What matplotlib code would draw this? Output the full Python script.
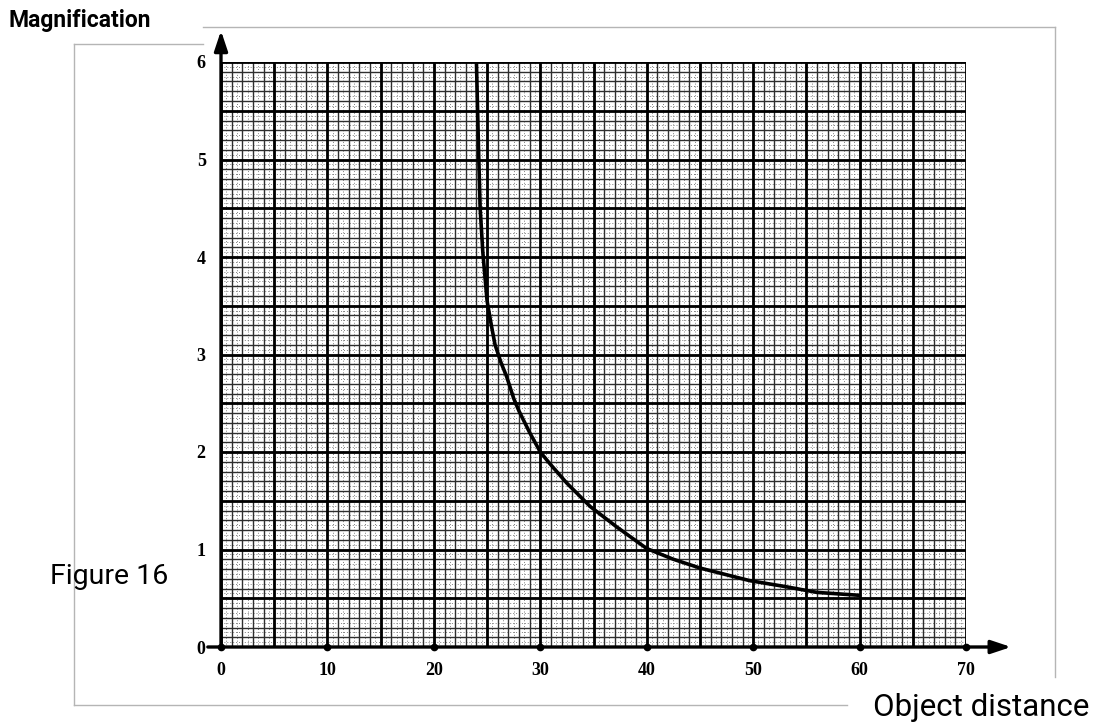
import numpy as np
import matplotlib.pyplot as plt
from matplotlib.lines import Line2D

# magnification curve
distance = [24.0, 24.2, 24.35, 24.6, 25.0, 25.4, 25.75, 26.3, 26.85, 27.5,
            28.0, 29.0, 30.0, 30.9, 32.5, 34.7, 37.2, 40.0, 42.5, 45.0,
            49.7, 53.0, 56.0, 60.0]
magnification = [6.0, 5.1, 4.5, 4.05, 3.55, 3.3, 3.1, 2.92, 2.77, 2.55,
                 2.42, 2.2, 2.0, 1.88, 1.68, 1.44, 1.23, 1.01, 0.9, 0.81,
                 0.68, 0.62, 0.56, 0.53]

x_ticks = [0, 10, 20, 30, 40, 50, 60, 70]
y_ticks = [0, 1, 2, 3, 4, 5, 6]

W, H = 1097, 726
fig = plt.figure(figsize=(W / 100, H / 100), dpi=100)
ax = fig.add_axes([221 / W, 1 - 647 / H, 745 / W, 585 / H])
ax.set_xlim(0, 70)
ax.set_ylim(0, 6)

# graph paper: fine dots, thin lines, heavy lines
for x in np.arange(0, 70.01, 0.5):
    ax.axvline(x, color='#808080', lw=0.7, ls=(0, (1, 2)), zorder=1)
for y in np.arange(0, 6.001, 0.05):
    ax.axhline(y, color='#808080', lw=0.7, ls=(0, (1, 2)), zorder=1)
for x in np.arange(0, 70.01, 1):
    ax.axvline(x, color='#2e2e2e', lw=1.0, zorder=2)
for y in np.arange(0, 6.001, 0.1):
    ax.axhline(y, color='#2e2e2e', lw=1.0, zorder=2)
for x in np.arange(0, 70.01, 5):
    ax.axvline(x, color='black', lw=2.0, zorder=3)
for y in np.arange(0, 6.001, 0.5):
    ax.axhline(y, color='black', lw=2.0, zorder=3)

ax.plot(distance, magnification, color='black', lw=2.6, zorder=5,
        solid_capstyle='round', solid_joinstyle='round')

for s in ax.spines.values():
    s.set_visible(False)

# axes with arrow heads
ax.annotate('', xy=(74.5, 0), xytext=(-1.5, 0), annotation_clip=False,
            arrowprops=dict(arrowstyle='-|>,head_length=1.2,head_width=0.4',
                            color='black', lw=2.4))
ax.annotate('', xy=(0, 6.35), xytext=(0, -0.05), annotation_clip=False,
            arrowprops=dict(arrowstyle='-|>,head_length=1.2,head_width=0.4',
                            color='black', lw=2.4))

ax.set_xticks(x_ticks)
ax.set_yticks(y_ticks)
ax.set_xticklabels([str(v) for v in x_ticks])
ax.set_yticklabels([str(v) for v in y_ticks])
ax.tick_params(length=0, pad=11, labelsize=13)
for lab in ax.get_xticklabels() + ax.get_yticklabels():
    lab.set_family('Liberation Serif')
    lab.set_fontweight('bold')
ax.plot(x_ticks, [0] * len(x_ticks), 'ko', ms=4.5, clip_on=False, zorder=6)

# thin grey frame around the cut-out
frame = dict(color='#b5b5b5', lw=1.0)
fig.add_artist(Line2D([74 / W, 74 / W], [1 - 44 / H, 1 - 705 / H], **frame))
fig.add_artist(Line2D([74 / W, 203 / W], [1 - 44 / H, 1 - 44 / H], **frame))
fig.add_artist(Line2D([203 / W, 1055 / W], [1 - 27 / H, 1 - 27 / H], **frame))
fig.add_artist(Line2D([1055 / W, 1055 / W], [1 - 27 / H, 1 - 677 / H], **frame))
fig.add_artist(Line2D([74 / W, 847 / W], [1 - 705 / H, 1 - 705 / H], **frame))

fig.text(9 / W, 1 - 20 / H, 'Magnification', family='Roboto',
         fontweight='semibold', fontsize=16.5, va='center', ha='left')
fig.text(50 / W, 1 - 576 / H, 'Figure 16', family='Roboto',
         fontsize=20.5, va='center', ha='left')
fig.text(1089 / W, 1 - 707 / H, 'Object distance', family='Roboto',
         fontsize=22.5, va='center', ha='right')

fig.savefig('out.png', dpi=100)
